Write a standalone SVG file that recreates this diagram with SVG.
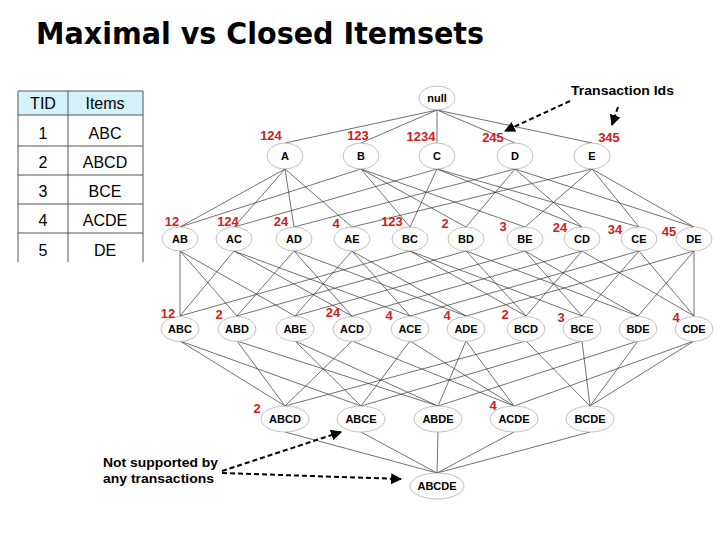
<svg xmlns="http://www.w3.org/2000/svg" width="720" height="540" viewBox="0 0 720 540">
<style>
.title{font-family:"DejaVu Sans",Verdana,sans-serif;font-weight:bold;font-size:31px;fill:#000}
.tbl{font-family:"Liberation Sans",Arial,sans-serif;font-size:16px;fill:#000;text-anchor:middle}
.node ellipse{fill:#fff;stroke:#b0b0b0;stroke-width:0.8}
.node text{font-family:"Liberation Sans",Arial,sans-serif;font-weight:bold;font-size:11px;fill:#000;text-anchor:middle}
.sup{font-family:"Liberation Sans",Arial,sans-serif;font-weight:bold;font-size:13px;fill:#d02020;text-anchor:middle}
.note{font-family:"Liberation Sans",Arial,sans-serif;font-weight:bold;font-size:13.5px;fill:#000}
#connectors line{stroke:#333;stroke-width:0.7}
.dash{stroke:#000;stroke-width:2;stroke-dasharray:5,3;fill:none}
</style>
<defs>
<marker id="ah" viewBox="0 0 10 10" refX="9" refY="5" markerWidth="5.5" markerHeight="5.5" orient="auto" markerUnits="strokeWidth">
<path d="M0,0 L10,5 L0,10 z" fill="#000"/>
</marker>
</defs>
<rect width="720" height="540" fill="#fff"/>
<text class="title" x="36" y="44" textLength="448" lengthAdjust="spacingAndGlyphs">Maximal vs Closed Itemsets</text>

<g id="table">
<rect x="18" y="91" width="125" height="24" fill="#d4f2fa"/>
<g stroke="#555" stroke-width="1" fill="none">
<line x1="18" y1="91" x2="143" y2="91"/>
<line x1="18" y1="91" x2="18" y2="262"/>
<line x1="143" y1="91" x2="143" y2="262"/>
<line x1="68" y1="91" x2="68" y2="262"/>
<line x1="18" y1="115" x2="143" y2="115"/>
<line x1="18" y1="146" x2="143" y2="146"/>
<line x1="18" y1="175" x2="143" y2="175"/>
<line x1="18" y1="204" x2="143" y2="204"/>
<line x1="18" y1="233" x2="143" y2="233"/>
</g>
<text class="tbl" x="43" y="109" font-size="15">TID</text>
<text class="tbl" x="105" y="109" font-size="15">Items</text>
<text class="tbl" x="43" y="139">1</text><text class="tbl" x="105" y="139">ABC</text>
<text class="tbl" x="43" y="168">2</text><text class="tbl" x="105" y="168">ABCD</text>
<text class="tbl" x="43" y="197">3</text><text class="tbl" x="105" y="197">BCE</text>
<text class="tbl" x="43" y="226">4</text><text class="tbl" x="105" y="226">ACDE</text>
<text class="tbl" x="43" y="256">5</text><text class="tbl" x="105" y="256">DE</text>
</g>

<g id="connectors">
<line x1="437" y1="110" x2="285" y2="143"/>
<line x1="437" y1="110" x2="361" y2="143"/>
<line x1="437" y1="110" x2="437" y2="143"/>
<line x1="437" y1="110" x2="515" y2="143"/>
<line x1="437" y1="110" x2="592" y2="143"/>

<line x1="285" y1="169" x2="180" y2="227"/>
<line x1="285" y1="169" x2="234" y2="227"/>
<line x1="285" y1="169" x2="294" y2="227"/>
<line x1="285" y1="169" x2="352" y2="227"/>
<line x1="361" y1="169" x2="180" y2="227"/>
<line x1="361" y1="169" x2="410" y2="227"/>
<line x1="361" y1="169" x2="466" y2="227"/>
<line x1="361" y1="169" x2="525" y2="227"/>
<line x1="437" y1="169" x2="234" y2="227"/>
<line x1="437" y1="169" x2="410" y2="227"/>
<line x1="437" y1="169" x2="582" y2="227"/>
<line x1="437" y1="169" x2="639" y2="227"/>
<line x1="515" y1="169" x2="294" y2="227"/>
<line x1="515" y1="169" x2="466" y2="227"/>
<line x1="515" y1="169" x2="582" y2="227"/>
<line x1="515" y1="169" x2="694" y2="227"/>
<line x1="592" y1="169" x2="352" y2="227"/>
<line x1="592" y1="169" x2="525" y2="227"/>
<line x1="592" y1="169" x2="639" y2="227"/>
<line x1="592" y1="169" x2="694" y2="227"/>

<line x1="180" y1="251" x2="180" y2="316"/>
<line x1="180" y1="251" x2="237" y2="316"/>
<line x1="180" y1="251" x2="295" y2="316"/>
<line x1="234" y1="251" x2="180" y2="316"/>
<line x1="234" y1="251" x2="352" y2="316"/>
<line x1="234" y1="251" x2="410" y2="316"/>
<line x1="294" y1="251" x2="237" y2="316"/>
<line x1="294" y1="251" x2="352" y2="316"/>
<line x1="294" y1="251" x2="466" y2="316"/>
<line x1="352" y1="251" x2="295" y2="316"/>
<line x1="352" y1="251" x2="410" y2="316"/>
<line x1="352" y1="251" x2="466" y2="316"/>
<line x1="410" y1="251" x2="180" y2="316"/>
<line x1="410" y1="251" x2="526" y2="316"/>
<line x1="410" y1="251" x2="582" y2="316"/>
<line x1="466" y1="251" x2="237" y2="316"/>
<line x1="466" y1="251" x2="526" y2="316"/>
<line x1="466" y1="251" x2="638" y2="316"/>
<line x1="525" y1="251" x2="295" y2="316"/>
<line x1="525" y1="251" x2="582" y2="316"/>
<line x1="525" y1="251" x2="638" y2="316"/>
<line x1="582" y1="251" x2="352" y2="316"/>
<line x1="582" y1="251" x2="526" y2="316"/>
<line x1="582" y1="251" x2="694" y2="316"/>
<line x1="639" y1="251" x2="410" y2="316"/>
<line x1="639" y1="251" x2="582" y2="316"/>
<line x1="639" y1="251" x2="694" y2="316"/>
<line x1="694" y1="251" x2="466" y2="316"/>
<line x1="694" y1="251" x2="638" y2="316"/>
<line x1="694" y1="251" x2="694" y2="316"/>

<line x1="180" y1="341" x2="285" y2="406"/>
<line x1="180" y1="341" x2="361" y2="406"/>
<line x1="237" y1="341" x2="285" y2="406"/>
<line x1="237" y1="341" x2="438" y2="406"/>
<line x1="295" y1="341" x2="361" y2="406"/>
<line x1="295" y1="341" x2="438" y2="406"/>
<line x1="352" y1="341" x2="285" y2="406"/>
<line x1="352" y1="341" x2="514" y2="406"/>
<line x1="410" y1="341" x2="361" y2="406"/>
<line x1="410" y1="341" x2="514" y2="406"/>
<line x1="466" y1="341" x2="438" y2="406"/>
<line x1="466" y1="341" x2="514" y2="406"/>
<line x1="526" y1="341" x2="285" y2="406"/>
<line x1="526" y1="341" x2="590" y2="406"/>
<line x1="582" y1="341" x2="361" y2="406"/>
<line x1="582" y1="341" x2="590" y2="406"/>
<line x1="638" y1="341" x2="438" y2="406"/>
<line x1="638" y1="341" x2="590" y2="406"/>
<line x1="694" y1="341" x2="514" y2="406"/>
<line x1="694" y1="341" x2="590" y2="406"/>

<line x1="285" y1="432" x2="437" y2="473"/>
<line x1="361" y1="432" x2="437" y2="473"/>
<line x1="438" y1="432" x2="437" y2="473"/>
<line x1="514" y1="432" x2="437" y2="473"/>
<line x1="590" y1="432" x2="437" y2="473"/>
</g>

<g id="n-null" class="node"><ellipse cx="437" cy="98" rx="18" ry="12"/><text x="437" y="102">null</text></g>
<g id="n-A" class="node"><ellipse cx="285" cy="156" rx="18" ry="13"/><text x="285" y="160">A</text></g>
<g id="n-B" class="node"><ellipse cx="361" cy="156" rx="18" ry="13"/><text x="361" y="160">B</text></g>
<g id="n-C" class="node"><ellipse cx="437" cy="156" rx="18" ry="13"/><text x="437" y="160">C</text></g>
<g id="n-D" class="node"><ellipse cx="515" cy="156" rx="18" ry="13"/><text x="515" y="160">D</text></g>
<g id="n-E" class="node"><ellipse cx="592" cy="156" rx="18" ry="13"/><text x="592" y="160">E</text></g>

<g id="n-AB" class="node"><ellipse cx="180" cy="239" rx="18" ry="12"/><text x="180" y="243">AB</text></g>
<g id="n-AC" class="node"><ellipse cx="234" cy="239" rx="18" ry="12"/><text x="234" y="243">AC</text></g>
<g id="n-AD" class="node"><ellipse cx="294" cy="239" rx="18" ry="12"/><text x="294" y="243">AD</text></g>
<g id="n-AE" class="node"><ellipse cx="352" cy="239" rx="18" ry="12"/><text x="352" y="243">AE</text></g>
<g id="n-BC" class="node"><ellipse cx="410" cy="239" rx="18" ry="12"/><text x="410" y="243">BC</text></g>
<g id="n-BD" class="node"><ellipse cx="466" cy="239" rx="18" ry="12"/><text x="466" y="243">BD</text></g>
<g id="n-BE" class="node"><ellipse cx="525" cy="239" rx="18" ry="12"/><text x="525" y="243">BE</text></g>
<g id="n-CD" class="node"><ellipse cx="582" cy="239" rx="18" ry="12"/><text x="582" y="243">CD</text></g>
<g id="n-CE" class="node"><ellipse cx="639" cy="239" rx="18" ry="12"/><text x="639" y="243">CE</text></g>
<g id="n-DE" class="node"><ellipse cx="694" cy="239" rx="18" ry="12"/><text x="694" y="243">DE</text></g>

<g id="n-ABC" class="node"><ellipse cx="180" cy="329" rx="19" ry="12.5"/><text x="180" y="333">ABC</text></g>
<g id="n-ABD" class="node"><ellipse cx="237" cy="329" rx="19" ry="12.5"/><text x="237" y="333">ABD</text></g>
<g id="n-ABE" class="node"><ellipse cx="295" cy="329" rx="19" ry="12.5"/><text x="295" y="333">ABE</text></g>
<g id="n-ACD" class="node"><ellipse cx="352" cy="329" rx="19" ry="12.5"/><text x="352" y="333">ACD</text></g>
<g id="n-ACE" class="node"><ellipse cx="410" cy="329" rx="19" ry="12.5"/><text x="410" y="333">ACE</text></g>
<g id="n-ADE" class="node"><ellipse cx="466" cy="329" rx="19" ry="12.5"/><text x="466" y="333">ADE</text></g>
<g id="n-BCD" class="node"><ellipse cx="526" cy="329" rx="19" ry="12.5"/><text x="526" y="333">BCD</text></g>
<g id="n-BCE" class="node"><ellipse cx="582" cy="329" rx="19" ry="12.5"/><text x="582" y="333">BCE</text></g>
<g id="n-BDE" class="node"><ellipse cx="638" cy="329" rx="19" ry="12.5"/><text x="638" y="333">BDE</text></g>
<g id="n-CDE" class="node"><ellipse cx="694" cy="329" rx="19" ry="12.5"/><text x="694" y="333">CDE</text></g>

<g id="n-ABCD" class="node"><ellipse cx="285" cy="419" rx="24" ry="13"/><text x="285" y="423">ABCD</text></g>
<g id="n-ABCE" class="node"><ellipse cx="361" cy="419" rx="24" ry="13"/><text x="361" y="423">ABCE</text></g>
<g id="n-ABDE" class="node"><ellipse cx="438" cy="419" rx="24" ry="13"/><text x="438" y="423">ABDE</text></g>
<g id="n-ACDE" class="node"><ellipse cx="514" cy="419" rx="24" ry="13"/><text x="514" y="423">ACDE</text></g>
<g id="n-BCDE" class="node"><ellipse cx="590" cy="419" rx="24" ry="13"/><text x="590" y="423">BCDE</text></g>

<g id="n-ABCDE" class="node"><ellipse cx="437" cy="486" rx="27" ry="13"/><text x="437" y="490">ABCDE</text></g>

<g id="support">
<text class="sup" x="271" y="140">124</text>
<text class="sup" x="358" y="140">123</text>
<text class="sup" x="421" y="141">1234</text>
<text class="sup" x="493" y="142">245</text>
<text class="sup" x="609" y="142">345</text>

<text class="sup" x="172" y="226">12</text>
<text class="sup" x="228" y="226">124</text>
<text class="sup" x="281" y="226">24</text>
<text class="sup" x="336" y="228">4</text>
<text class="sup" x="392" y="226">123</text>
<text class="sup" x="445" y="228">2</text>
<text class="sup" x="503" y="231">3</text>
<text class="sup" x="560" y="232">24</text>
<text class="sup" x="615" y="234">34</text>
<text class="sup" x="669" y="236">45</text>

<text class="sup" x="168" y="318">12</text>
<text class="sup" x="219" y="319">2</text>
<text class="sup" x="333" y="317">24</text>
<text class="sup" x="389" y="320">4</text>
<text class="sup" x="447" y="320">4</text>
<text class="sup" x="505" y="319">2</text>
<text class="sup" x="561" y="322">3</text>
<text class="sup" x="676" y="322">4</text>

<text class="sup" x="257" y="413">2</text>
<text class="sup" x="493" y="410">4</text>
</g>

<g id="notes">
<text class="note" x="571" y="95" textLength="103" lengthAdjust="spacingAndGlyphs">Transaction Ids</text>
<path class="dash" d="M570,101 L505,131" marker-end="url(#ah)"/>
<path class="dash" d="M618,107 L612,125" marker-end="url(#ah)"/>
<text class="note" x="103" y="467" textLength="115" lengthAdjust="spacingAndGlyphs">Not supported by</text>
<text class="note" x="103" y="483" textLength="111" lengthAdjust="spacingAndGlyphs">any transactions</text>
<path class="dash" d="M222,471 L341,432" marker-end="url(#ah)"/>
<path class="dash" d="M222,473 L401,479" marker-end="url(#ah)"/>
</g>
</svg>
